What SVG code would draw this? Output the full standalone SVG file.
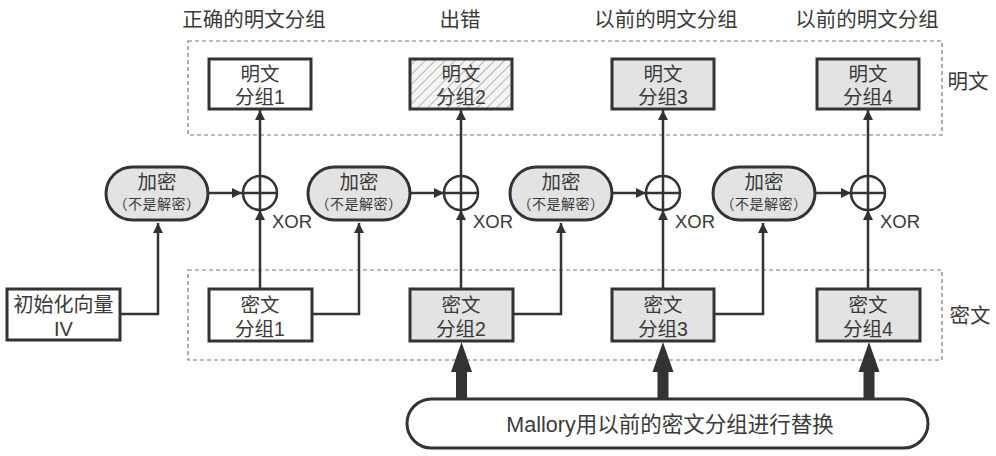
<svg xmlns="http://www.w3.org/2000/svg" width="996" height="456" viewBox="0 0 996 456">
<style>
text{font-family:"Liberation Sans","Noto Sans CJK SC",sans-serif;fill:#3a3a3a;text-anchor:middle}
.lbl{font-size:20.5px}
.bt{font-size:19.5px}
.sm{font-size:14px;letter-spacing:0.5px}
.xor{font-family:"Liberation Sans",Arial,sans-serif;font-size:18.5px;text-anchor:start}
.box{stroke:#333;stroke-width:3}
.w{fill:#fff}
.g{fill:#e3e3e3}
.pill{fill:#e3e3e3;stroke:#333;stroke-width:3}
.dash{fill:none;stroke:#777;stroke-width:1.2;stroke-dasharray:4 3}
.ln{fill:none;stroke:#333;stroke-width:2.5}
.thick{fill:#333}
</style>
<defs>
<marker id="ah" viewBox="0 0 10 10" refX="10" refY="5" markerWidth="10" markerHeight="10" markerUnits="userSpaceOnUse" orient="auto">
<path d="M0,0 L10,5 L0,10 z" fill="#333"/>
</marker>
<pattern id="hatch" width="7" height="7" patternUnits="userSpaceOnUse" patternTransform="rotate(45)">
<rect width="7" height="7" fill="#f4f4f4"/>
<line x1="0" y1="0" x2="0" y2="7" stroke="#999" stroke-width="1.4"/>
</pattern>
</defs>

<g id="regions">
<rect class="dash" x="188" y="41" width="754" height="94"/>
<rect class="dash" x="188" y="270" width="754" height="90"/>
<text class="lbl" x="968" y="89">明文</text>
<text class="lbl" x="970" y="323">密文</text>
</g>

<g id="top-labels">
<text class="lbl" x="254" y="26.5">正确的明文分组</text>
<text class="lbl" x="460" y="26.5">出错</text>
<text class="lbl" x="666" y="26.5">以前的明文分组</text>
<text class="lbl" x="867" y="26.5">以前的明文分组</text>
</g>

<g id="connectors">
<path class="ln" d="M120,314 H158 V223" marker-end="url(#ah)"/>
<path class="ln" d="M312,314 H359 V223" marker-end="url(#ah)"/>
<path class="ln" d="M513,314 H561 V223" marker-end="url(#ah)"/>
<path class="ln" d="M714,314 H763 V223" marker-end="url(#ah)"/>
<path class="ln" d="M208,193 H242" marker-end="url(#ah)"/>
<path class="ln" d="M410,193 H444" marker-end="url(#ah)"/>
<path class="ln" d="M612,193 H646" marker-end="url(#ah)"/>
<path class="ln" d="M815,193 H851" marker-end="url(#ah)"/>
<path class="ln" d="M260,289 V210" marker-end="url(#ah)"/>
<path class="ln" d="M461,289 V210" marker-end="url(#ah)"/>
<path class="ln" d="M663,289 V210" marker-end="url(#ah)"/>
<path class="ln" d="M868,289 V210" marker-end="url(#ah)"/>
<path class="ln" d="M260,176 V110" marker-end="url(#ah)"/>
<path class="ln" d="M461,176 V110" marker-end="url(#ah)"/>
<path class="ln" d="M663,176 V110" marker-end="url(#ah)"/>
<path class="ln" d="M868,176 V110" marker-end="url(#ah)"/>
<path class="thick" d="M456,399 V372 H451 L461.5,342 L472,372 H467 V399 z"/>
<path class="thick" d="M657.5,399 V372 H652.5 L663,342 L673.5,372 H668.5 V399 z"/>
<path class="thick" d="M863.5,399 V372 H858.5 L869,342 L879.5,372 H874.5 V399 z"/>
</g>

<g id="xor1"><circle cx="260" cy="193" r="17" fill="#fff" stroke="#333" stroke-width="2.5"/><path class="ln" d="M243,193 H277 M260,176 V210"/><text class="xor" x="272" y="228">XOR</text></g>
<g id="xor2"><circle cx="461" cy="193" r="17" fill="#fff" stroke="#333" stroke-width="2.5"/><path class="ln" d="M444,193 H478 M461,176 V210"/><text class="xor" x="473" y="228">XOR</text></g>
<g id="xor3"><circle cx="663" cy="193" r="17" fill="#fff" stroke="#333" stroke-width="2.5"/><path class="ln" d="M646,193 H680 M663,176 V210"/><text class="xor" x="675" y="228">XOR</text></g>
<g id="xor4"><circle cx="868" cy="193" r="17" fill="#fff" stroke="#333" stroke-width="2.5"/><path class="ln" d="M851,193 H885 M868,176 V210"/><text class="xor" x="880" y="228">XOR</text></g>

<g id="enc1"><rect class="pill" x="106" y="167" width="102" height="53" rx="26.5"/><text x="157" y="188.5"><tspan class="bt">加密</tspan><tspan class="sm" x="157" dy="20">（不是解密）</tspan></text></g>
<g id="enc2"><rect class="pill" x="308" y="167" width="102" height="53" rx="26.5"/><text x="359" y="188.5"><tspan class="bt">加密</tspan><tspan class="sm" x="359" dy="20">（不是解密）</tspan></text></g>
<g id="enc3"><rect class="pill" x="510" y="167" width="102" height="53" rx="26.5"/><text x="561" y="188.5"><tspan class="bt">加密</tspan><tspan class="sm" x="561" dy="20">（不是解密）</tspan></text></g>
<g id="enc4"><rect class="pill" x="713" y="167" width="102" height="53" rx="26.5"/><text x="764" y="188.5"><tspan class="bt">加密</tspan><tspan class="sm" x="764" dy="20">（不是解密）</tspan></text></g>

<g id="p1"><rect class="box w" x="209" y="59" width="102" height="50"/><text class="bt" x="260" y="81">明文<tspan x="260" dy="22.5">分组1</tspan></text></g>
<g id="p2"><rect class="box" fill="url(#hatch)" x="410" y="59" width="102" height="50"/><text class="bt" x="461" y="81">明文<tspan x="461" dy="22.5">分组2</tspan></text></g>
<g id="p3"><rect class="box g" x="612" y="59" width="102" height="50"/><text class="bt" x="663" y="81">明文<tspan x="663" dy="22.5">分组3</tspan></text></g>
<g id="p4"><rect class="box g" x="817" y="59" width="102" height="50"/><text class="bt" x="868" y="81">明文<tspan x="868" dy="22.5">分组4</tspan></text></g>

<g id="iv"><rect class="box w" x="7" y="289" width="113" height="51"/><text class="bt" x="63.5" y="312" style="font-size:20px">初始化向量<tspan x="63.5" dy="24">IV</tspan></text></g>
<g id="c1"><rect class="box w" x="209" y="289" width="103" height="52"/><text class="bt" x="260" y="312">密文<tspan x="260" dy="24">分组1</tspan></text></g>
<g id="c2"><rect class="box g" x="410" y="289" width="103" height="52"/><text class="bt" x="461" y="312">密文<tspan x="461" dy="24">分组2</tspan></text></g>
<g id="c3"><rect class="box g" x="612" y="289" width="102" height="52"/><text class="bt" x="663" y="312">密文<tspan x="663" dy="24">分组3</tspan></text></g>
<g id="c4"><rect class="box g" x="817" y="289" width="103" height="52"/><text class="bt" x="868" y="312">密文<tspan x="868" dy="24">分组4</tspan></text></g>

<g id="mallory"><rect x="407" y="399" width="521" height="49" rx="24.5" fill="#fff" stroke="#333" stroke-width="3"/><text class="bt" x="670" y="432" style="font-size:21.5px">Mallory用以前的密文分组进行替换</text></g>
</svg>
